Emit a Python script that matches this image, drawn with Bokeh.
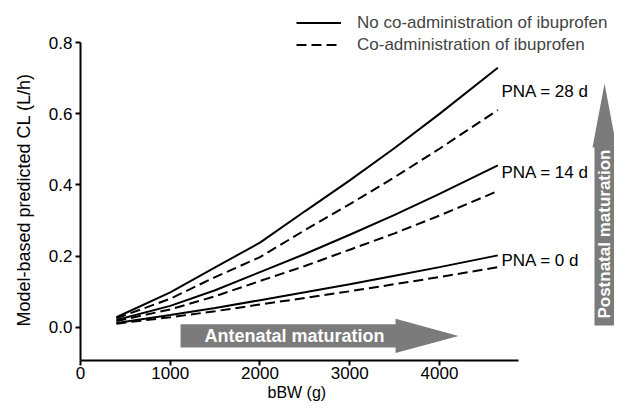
from math import pi
from bokeh.plotting import figure
from bokeh.models import (Legend, LegendItem, FixedTicker, PrintfTickFormatter,
                          Range1d, Title)
from bokeh.embed import file_html
from bokeh.resources import INLINE
from bokeh.core.properties import value

# ---- data ----
bbw = [400, 1000, 1500, 2000, 2500, 3000, 3500, 4000, 4650]  # birth body weight (g)

# No co-administration of ibuprofen (solid)
cl_pna0_no = [0.012, 0.034, 0.054, 0.076, 0.098, 0.121, 0.145, 0.169, 0.202]
cl_pna14_no = [0.020, 0.060, 0.104, 0.155, 0.206, 0.260, 0.316, 0.375, 0.455]
cl_pna28_no = [0.028, 0.098, 0.168, 0.238, 0.326, 0.413, 0.504, 0.600, 0.730]

# Co-administration of ibuprofen (dashed)
cl_pna0_ibu = [0.010, 0.028, 0.045, 0.064, 0.082, 0.101, 0.121, 0.141, 0.169]
cl_pna14_ibu = [0.017, 0.050, 0.087, 0.130, 0.172, 0.218, 0.264, 0.314, 0.383]
cl_pna28_ibu = [0.025, 0.080, 0.141, 0.197, 0.273, 0.346, 0.422, 0.502, 0.611]

pna_labels = ["PNA = 0 d", "PNA = 14 d", "PNA = 28 d"]
series_labels = ["No co-administration of ibuprofen", "Co-administration of ibuprofen"]
x_ticks = [0, 1000, 2000, 3000, 4000]
y_ticks = [0.0, 0.2, 0.4, 0.6, 0.8]
x_title = "bBW (g)"
y_title = "Model-based predicted CL (L/h)"

FONT = "Liberation Sans"

p = figure(width=614, height=403, output_backend="svg", toolbar_location=None,
           x_range=Range1d(0, 5950), y_range=Range1d(-0.0937, 0.919),
           min_border_left=80, min_border_right=0, min_border_top=0,
           min_border_bottom=43)
p.outline_line_color = None
p.xgrid.visible = False
p.ygrid.visible = False
p.background_fill_color = "white"

for ax in (p.xaxis[0], p.yaxis[0]):
    ax.axis_line_width = 2
    ax.major_tick_line_width = 2
    ax.major_tick_out = 5
    ax.major_tick_in = 0
    ax.minor_tick_line_color = None
    ax.major_label_text_font = FONT
    ax.major_label_text_font_size = "17px"
    ax.major_label_text_color = "black"

p.xaxis.bounds = (0, 4880)
p.yaxis.bounds = (-0.0937, 0.8)
p.xaxis.ticker = FixedTicker(ticks=x_ticks)
p.yaxis.ticker = FixedTicker(ticks=y_ticks)
p.xaxis.formatter = PrintfTickFormatter(format="%d")
p.yaxis.formatter = PrintfTickFormatter(format="%.1f")
p.xaxis.major_label_standoff = 1
p.yaxis.major_label_standoff = 3

# axis titles (as side titles so they can be positioned like the reference)
p.add_layout(Title(text=x_title, align="left", offset=187, standoff=0,
                   text_font=FONT, text_font_size="16px",
                   text_font_style="normal", text_color="black"), "below")
p.add_layout(Title(text=y_title, align="left", offset=34, standoff=23,
                   text_font=FONT, text_font_size="18px",
                   text_font_style="normal", text_color="black"), "left")

# ---- maturation arrows (annotation shapes) ----
arrow_col = "#7b7b7b"
p.patch(x=[1115, 3510, 3510, 4212, 3510, 3510, 1115],
        y=[0.008, 0.008, 0.0235, -0.0245, -0.0725, -0.057, -0.057],
        fill_color=arrow_col, line_color=None)
p.text(x=[2384], y=[-0.0245], text=["Antenatal maturation"], text_color="white",
       text_font=value(FONT), text_font_style="bold", text_font_size="18px",
       text_align="center", text_baseline="middle")

p.patch(x=[5727, 5727, 5705, 5839, 5973, 5950, 5950],
        y=[0.005, 0.5055, 0.5055, 0.6855, 0.5055, 0.5055, 0.005],
        fill_color=arrow_col, line_color=None)
p.text(x=[5839], y=[0.262], text=["Postnatal maturation"], text_color="white",
       text_font=value(FONT), text_font_style="bold", text_font_size="17px",
       text_align="center", text_baseline="middle", angle=pi / 2)

# ---- curves ----
r_solid = p.multi_line(xs=[bbw, bbw, bbw],
                       ys=[cl_pna28_no, cl_pna14_no, cl_pna0_no],
                       line_color="black", line_width=2)
r_dash = p.multi_line(xs=[bbw, bbw, bbw],
                      ys=[cl_pna28_ibu, cl_pna14_ibu, cl_pna0_ibu],
                      line_color="black", line_width=2, line_dash="10 5")

# PNA labels next to line ends
p.text(x=[4690] * 3, y=[0.188, 0.436, 0.664],
       text=pna_labels, text_color="black", text_font=value(FONT),
       text_font_size="17px", text_align="left", text_baseline="middle")

legend = Legend(items=[LegendItem(label=series_labels[0], renderers=[r_solid]),
                       LegendItem(label=series_labels[1], renderers=[r_dash])],
                location=(216, 305), glyph_width=45, glyph_height=21,
                label_height=21, label_standoff=16, spacing=1, padding=0,
                margin=0, border_line_color=None, background_fill_alpha=0,
                label_text_font=FONT, label_text_font_size="17px")
p.add_layout(legend)

open("out.html", "w").write(file_html(p, INLINE))
